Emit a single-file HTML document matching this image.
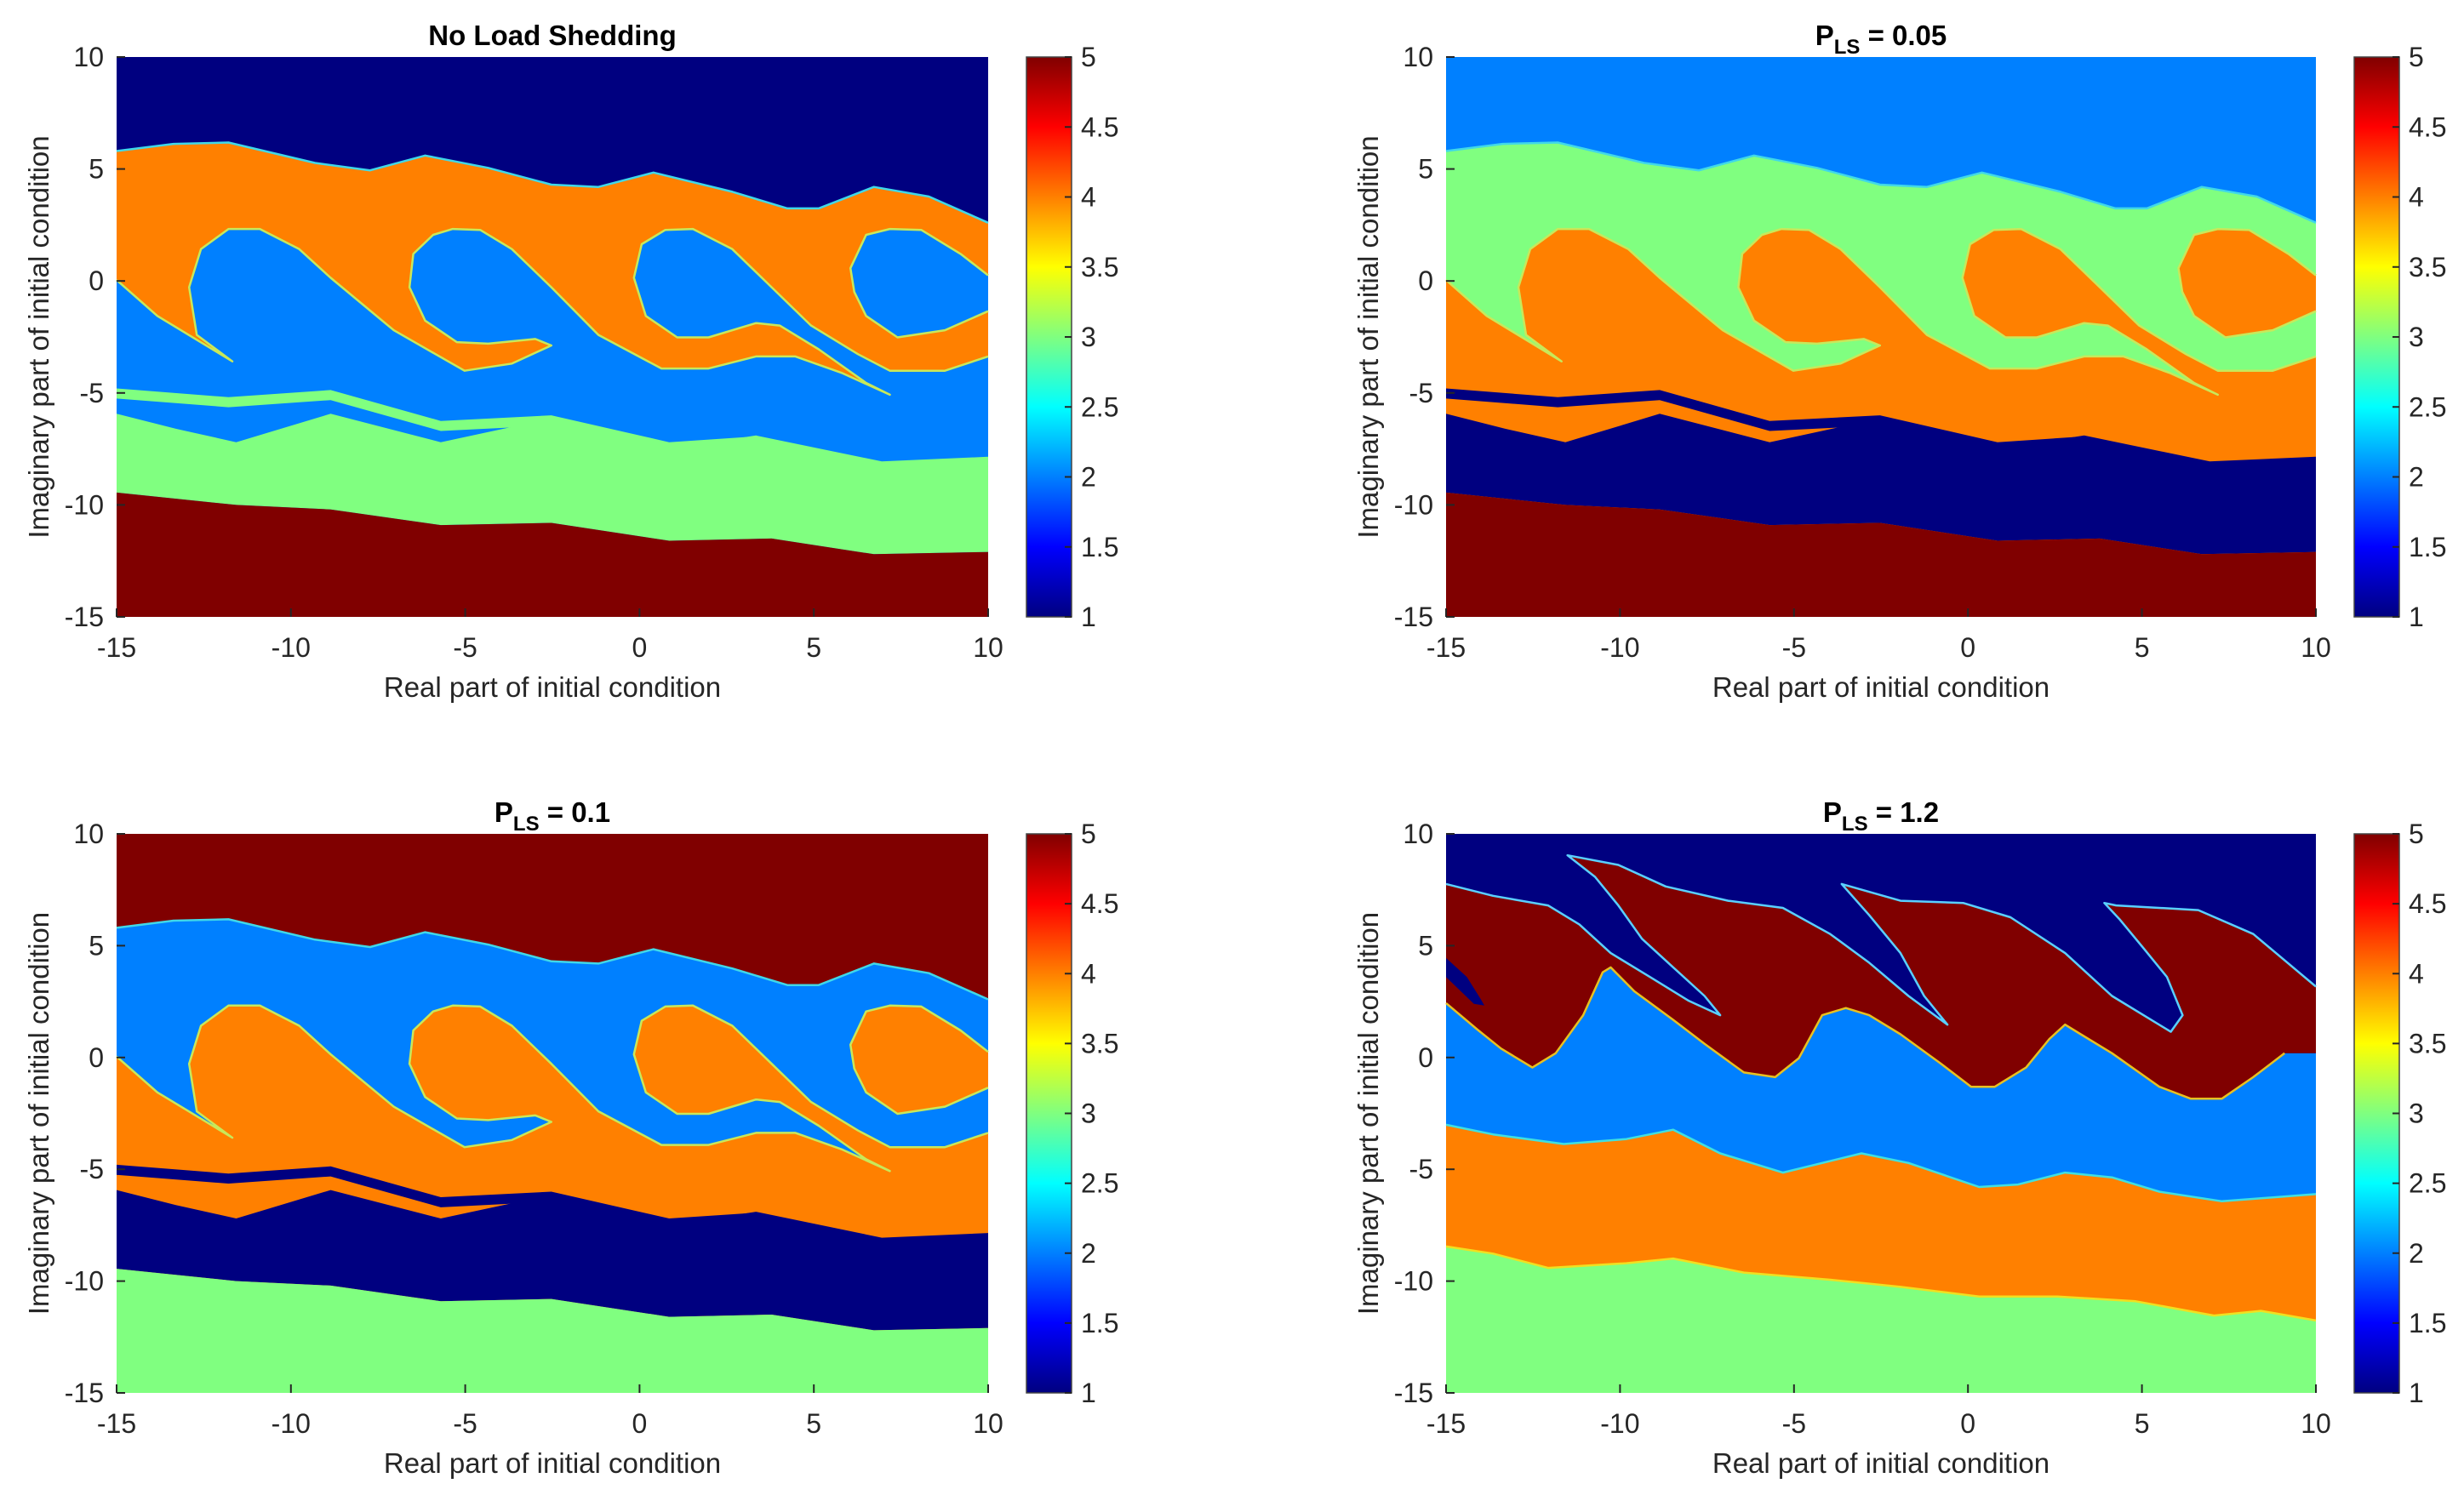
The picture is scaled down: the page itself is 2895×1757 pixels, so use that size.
<!DOCTYPE html>
<html><head><meta charset="utf-8"><style>
html,body{margin:0;padding:0;background:#fff;}
svg{display:block;font-family:"Liberation Sans",Arial,sans-serif;}
</style></head><body>
<svg id="fig" width="2895" height="1757" viewBox="0 0 2895 1757" xmlns="http://www.w3.org/2000/svg">
<defs>
<linearGradient id="jet" x1="0" y1="1" x2="0" y2="0">
<stop offset="0" stop-color="#000080"/><stop offset="0.125" stop-color="#0000ff"/>
<stop offset="0.375" stop-color="#00ffff"/><stop offset="0.625" stop-color="#ffff00"/>
<stop offset="0.875" stop-color="#ff0000"/><stop offset="1" stop-color="#800000"/>
</linearGradient>
</defs>
</svg>
<script>
// ---- data ----
const xTicks = [-15, -10, -5, 0, 5, 10];
const yTicks = [-15, -10, -5, 0, 5, 10];
const cbTicks = [1, 1.5, 2, 2.5, 3, 3.5, 4, 4.5, 5];
const jetColors = {1:'#000080', 2:'#0080ff', 3:'#80ff80', 4:'#ff8000', 5:'#800000'};
// shared basin boundaries for panels 1-3 (data coordinates)
const topBoundary = [[-15,5.8],[-13.37,6.12],[-11.79,6.18],[-9.31,5.27],[-7.73,4.94],[-6.15,5.6],[-4.34,5.05],[-2.53,4.3],[-1.18,4.2],[0.4,4.84],[2.66,3.98],[4.24,3.24],[5.14,3.24],[6.72,4.2],[8.3,3.77],[10,2.6]];
const bandBottom = [[10,0.25],[9.21,1.21],[8.08,2.28],[7.18,2.32],[6.5,2.06],[6.05,0.57],[6.16,-0.49],[6.5,-1.56],[7.4,-2.52],[8.76,-2.2],[10,-1.35],[10,-3.37],[8.76,-4.01],[7.18,-4.01],[6.27,-3.27],[4.92,-1.99],[3.79,-0.28],[2.66,1.42],[1.53,2.32],[0.74,2.28],[0.06,1.64],[-0.16,0.14],[0.18,-1.56],[1.08,-2.52],[1.98,-2.52],[3.34,-1.88],[4.02,-1.99],[5.14,-3.05],[6.5,-4.55],[7.18,-5.08],[5.82,-4.12],[4.47,-3.37],[3.34,-3.37],[1.98,-3.91],[0.63,-3.91],[-1.18,-2.41],[-2.53,-0.28],[-3.66,1.42],[-4.57,2.28],[-5.36,2.32],[-5.92,2.06],[-6.49,1.21],[-6.6,-0.28],[-6.15,-1.77],[-5.24,-2.73],[-4.34,-2.8],[-2.99,-2.59],[-2.53,-2.88],[-3.66,-3.69],[-5.02,-4.01],[-7.05,-2.2],[-8.86,0.14],[-9.76,1.42],[-10.89,2.32],[-11.79,2.32],[-12.58,1.42],[-12.92,-0.28],[-12.7,-2.41],[-11.68,-3.59],[-13.83,-1.56],[-15,0.04]];
const stripeTop = [[-15,-4.8],[-11.79,-5.19],[-8.86,-4.87],[-5.7,-6.25],[-2.53,-6.0],[0.85,-7.2],[3.34,-6.94],[6.5,-8.5],[7.1,-8.6]];
const lowBandTop = [[-15,-5.93],[-13.3,-6.6],[-11.57,-7.2],[-8.86,-5.93],[-5.7,-7.2],[-2.53,-6.14],[0.85,-7.5],[3.34,-6.9],[6.95,-8.06],[10,-7.85]];
const lowBandBottom = [[-15,-9.45],[-11.57,-10],[-8.86,-10.2],[-5.7,-10.9],[-2.53,-10.8],[0.85,-11.6],[3.79,-11.5],[6.72,-12.2],[10,-12.1]];
// region values per panel: [top, band, lower, lowBand, bottom]
const valsNoLS = [1, 4, 2, 3, 5];
const valsLS005 = [2, 3, 4, 1, 5];
const valsLS01 = [5, 2, 4, 1, 3];
// panel 4 (P_LS = 1.2)
const p4Red = [[-15,7.76],[-13.65,7.23],[-12.07,6.8],[-11.17,5.95],[-10.27,4.67],[-9.14,3.6],[-8.02,2.53],[-7.12,1.89],[-7.57,2.75],[-8.47,4.03],[-9.37,5.31],[-10.05,6.8],[-10.72,8.08],[-11.51,9.04],[-10.05,8.61],[-8.69,7.65],[-6.89,7.01],[-5.32,6.69],[-3.96,5.52],[-2.84,4.24],[-1.71,2.75],[-0.59,1.47],[-1.26,2.75],[-1.94,4.67],[-2.84,6.37],[-3.63,7.76],[-1.94,7.01],[-0.14,6.91],[1.22,6.27],[2.79,4.67],[4.14,2.75],[5.83,1.15],[6.17,1.89],[5.72,3.6],[5.05,4.88],[4.37,6.16],[3.92,6.91],[4.26,6.8],[6.62,6.59],[8.2,5.52],[10,3.17],[10,0.19]];
const p4RedBottom = [[10,0.19],[9.1,0.19],[8.2,-0.88],[7.3,-1.84],[6.4,-1.84],[5.5,-1.31],[4.14,0.19],[3.24,1.04],[2.79,1.47],[2.34,0.83],[1.67,-0.45],[0.77,-1.31],[0.09,-1.31],[-0.81,-0.24],[-1.94,1.04],[-2.84,1.89],[-3.51,2.21],[-4.19,1.89],[-4.86,-0.03],[-5.54,-0.88],[-6.44,-0.67],[-7.57,0.61],[-8.47,1.68],[-9.59,2.96],[-10.27,4.03],[-10.5,3.81],[-11.06,1.89],[-11.85,0.19],[-12.52,-0.45],[-13.42,0.4],[-14.1,1.25],[-15,2.43]];
const p4Slit = [[-15,4.45],[-14.4,3.6],[-14.0,2.6],[-13.9,2.32],[-14.2,2.4],[-15,3.6]];
const p4OrangeTop = [[-15,-3.01],[-13.65,-3.44],[-11.62,-3.87],[-9.82,-3.65],[-8.47,-3.23],[-7.12,-4.29],[-5.32,-5.15],[-3.06,-4.29],[-1.71,-4.72],[0.32,-5.79],[1.44,-5.68],[2.79,-5.15],[4.14,-5.36],[5.5,-6.0],[7.3,-6.43],[10,-6.11]];
const p4OrangeBottom = [[-15,-8.45],[-13.65,-8.77],[-12.07,-9.41],[-9.82,-9.2],[-8.47,-8.99],[-6.44,-9.62],[-3.96,-9.94],[-1.94,-10.26],[0.32,-10.69],[2.57,-10.69],[4.82,-10.9],[7.07,-11.54],[8.42,-11.33],[10,-11.76]];

// ---- drawing ----
const NS = 'http://www.w3.org/2000/svg';
const svg = document.getElementById('fig');
function mk(tag, attrs, parent) {
  const e = document.createElementNS(NS, tag);
  for (const k in attrs) e.setAttribute(k, attrs[k]);
  (parent || svg).appendChild(e);
  return e;
}
function makeAxes(ox, oy, w, h) {
  return { sx: x => ox + (x + 15) / 25 * w, sy: y => oy + (10 - y) / 25 * h };
}
function pts(ax, arr) { return arr.map(p => ax.sx(p[0]).toFixed(1) + ',' + ax.sy(p[1]).toFixed(1)).join(' '); }
function poly(g, ax, arr, val, name) {
  const p = mk('polygon', {points: pts(ax, arr), fill: jetColors[val]}, g);
  
  
  return p;
}
function edge(g, ax, arr, color, name) {
  const p = mk('polyline', {points: pts(ax, arr), fill: 'none', stroke: color, 'stroke-width': 2.5, 'stroke-linejoin': 'round'}, g);
  
  
}
function frame(g, ox, oy, w, h, ax, title, sub, cbx) {
  xTicks.forEach(t => {
    const x = ax.sx(t);
    mk('line', {x1:x, y1:oy+h, x2:x, y2:oy+h-10, stroke:'#262626', 'stroke-width':2}, g);
    const tx = mk('text', {x:x, y:oy+h+47, 'font-size':32, fill:'#262626', 'text-anchor':'middle'}, g);
    tx.textContent = String(t);
    
    
  });
  yTicks.forEach(t => {
    const y = ax.sy(t);
    mk('line', {x1:ox, y1:y, x2:ox+10, y2:y, stroke:'#262626', 'stroke-width':2}, g);
    const ty = mk('text', {x:ox-15, y:y+11, 'font-size':32, fill:'#262626', 'text-anchor':'end'}, g);
    ty.textContent = String(t);
    
    
  });
  const xl = mk('text', {x:ox+w/2, y:oy+h+94, 'font-size':33, fill:'#262626', 'text-anchor':'middle'}, g);
  xl.textContent = 'Real part of initial condition';
  
  
  const yl = mk('text', {x:0, y:0, 'font-size':33, fill:'#262626', 'text-anchor':'middle', transform:`translate(${ox-80},${oy+h/2}) rotate(-90)`}, g);
  yl.textContent = 'Imaginary part of initial condition';
  
  
  const tt = mk('text', {x:ox+w/2, y:oy-14, 'font-size':33, 'font-weight':'bold', fill:'#000', 'text-anchor':'middle'}, g);
  
  
  if (sub) {
    const a = document.createElementNS(NS, 'tspan'); a.textContent = 'P'; tt.appendChild(a);
    const b = document.createElementNS(NS, 'tspan'); b.textContent = 'LS'; b.setAttribute('font-size', '24'); b.setAttribute('dy', '10'); tt.appendChild(b);
    const c = document.createElementNS(NS, 'tspan'); c.textContent = ' = ' + sub; c.setAttribute('dy', '-10'); tt.appendChild(c);
  } else tt.textContent = title;
  const cb = mk('rect', {x:cbx, y:oy, width:53, height:h, fill:'url(#jet)', stroke:'#444', 'stroke-width':1.5}, g);
  
  
  cbTicks.forEach(v => {
    const y = oy + (5 - v) / 4 * h;
    mk('line', {x1:cbx+53, y1:y, x2:cbx+45, y2:y, stroke:'#262626', 'stroke-width':2}, g);
    const t = mk('text', {x:cbx+64, y:y+11, 'font-size':32, fill:'#262626'}, g);
    t.textContent = String(v);
    
    
  });
}
function basinPanel(ox, oy, w, h, vals, title, sub, cbx, pname) {
  const g = mk('g', {});
  
  
  const ax = makeAxes(ox, oy, w, h);
  const [vTop, vBand, vLow, vLowBand, vBot] = vals;
  poly(g, ax, [[-15,10],[10,10],[10,-15],[-15,-15]], vLow, 'lower-basin');
  poly(g, ax, topBoundary.concat([[10,10],[-15,10]]), vTop, 'top-basin');
  poly(g, ax, topBoundary.concat(bandBottom), vBand, 'band-basin');
  edge(g, ax, topBoundary, '#40d8e8', 'top-boundary');
  edge(g, ax, bandBottom.slice(0, 11), '#c8e85a', 'lobe-boundary');
  edge(g, ax, bandBottom.slice(11), '#c8e85a', 'lobe-boundary');
  const stripe = stripeTop.concat(stripeTop.slice().reverse().map(p => [p[0], p[1] - 0.45]));
  poly(g, ax, stripe, vLowBand, 'thin-stripe');
  poly(g, ax, lowBandTop.concat(lowBandBottom.slice().reverse()), vLowBand, 'lower-band-basin');
  poly(g, ax, lowBandBottom.concat([[10,-15],[-15,-15]]), vBot, 'bottom-basin');
  frame(g, ox, oy, w, h, ax, title, sub, cbx);
}
function panel4(ox, oy, w, h, cbx) {
  const g = mk('g', {});
  
  
  const ax = makeAxes(ox, oy, w, h);
  poly(g, ax, [[-15,10],[10,10],[10,-15],[-15,-15]], 1, 'top-basin');
  poly(g, ax, p4RedBottom.slice().reverse().concat([[10,-15],[-15,-15]]), 2, 'middle-basin');
  poly(g, ax, p4Red.concat(p4RedBottom), 5, 'red-lobes');
  edge(g, ax, p4Red.slice(0, p4Red.length - 1), '#5ad0ff', 'red-top-boundary');
  edge(g, ax, p4RedBottom.slice(1), '#e8c020', 'red-bottom-boundary');
  poly(g, ax, p4Slit, 1, 'left-slit');
  poly(g, ax, p4OrangeTop.concat(p4OrangeBottom.slice().reverse()), 4, 'orange-band');
  edge(g, ax, p4OrangeTop, '#40e0e0', 'orange-top-boundary');
  poly(g, ax, p4OrangeBottom.concat([[10,-15],[-15,-15]]), 3, 'green-basin');
  edge(g, ax, p4OrangeBottom, '#f0e020', 'orange-bottom-boundary');
  frame(g, ox, oy, w, h, ax, '', '1.2', cbx);
}
basinPanel(137, 67, 1024, 658, valsNoLS, 'No Load Shedding', null, 1206, 'panel-no-load-shedding');
basinPanel(1699, 67, 1022, 658, valsLS005, '', '0.05', 2766, 'panel-pls-0-05');
basinPanel(137, 980, 1024, 657, valsLS01, '', '0.1', 1206, 'panel-pls-0-1');
panel4(1699, 980, 1022, 657, 2766);
</script>
</body></html>
